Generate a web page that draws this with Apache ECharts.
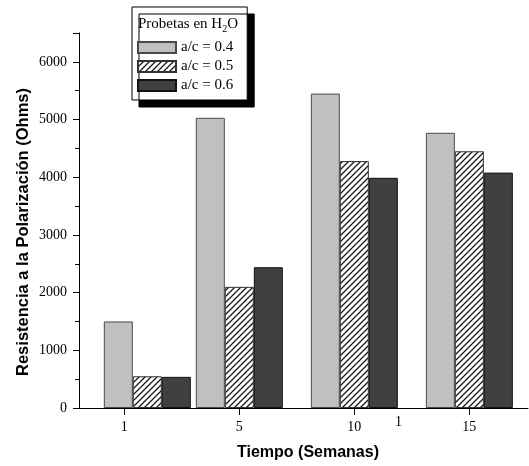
<!DOCTYPE html>
<html>
<head>
<meta charset="utf-8">
<script src="https://cdn.jsdelivr.net/npm/echarts@6/dist/echarts.min.js"></script>
<style>html,body{margin:0;padding:0;background:#fff}#c{width:529px;height:466px}</style>
</head>
<body>
<div id="c"></div>
<script>
// ---- data ----
const weeks = ['1', '5', '10', '15'];
const groupX = [1.2, 2, 3, 4];          // group positions along the x axis (tick index units)
const seriesNames = ['a/c = 0.4', 'a/c = 0.5', 'a/c = 0.6'];
const ac04 = [1500, 5030, 5450, 4770];
const ac05 = [550, 2100, 4280, 4450];
const ac06 = [540, 2440, 3990, 4080];
const xTickValues = [1, 2, 3, 4];

// hatch pattern
function hatch() {
  const s = 6, c = document.createElement('canvas');
  c.width = s; c.height = s;
  const g = c.getContext('2d');
  g.fillStyle = '#fff'; g.fillRect(0, 0, s, s);
  g.strokeStyle = '#1a1a1a'; g.lineWidth = 1.3;
  g.beginPath();
  g.moveTo(-1, s + 1); g.lineTo(s + 1, -1);
  g.moveTo(-1, 1); g.lineTo(1, -1);
  g.moveTo(s - 1, s + 1); g.lineTo(s + 1, s - 1);
  g.stroke();
  return { image: c, repeat: 'repeat' };
}

const pairs = arr => arr.map((v, i) => [groupX[i], v]);
const serif = 'Liberation Serif';
const sans = 'Liberation Sans';

const chart = echarts.init(document.getElementById('c'), null, { renderer: 'canvas' });
chart.setOption({
  animation: false,
  backgroundColor: '#fff',
  grid: { left: 79, right: 1, top: 33, bottom: 58, containLabel: false },
  xAxis: {
    type: 'value', min: 0.606, max: 4.51,
    axisLine: { onZero: false, lineStyle: { color: '#000', width: 1 } },
    axisTick: { show: true, length: 7, customValues: xTickValues, lineStyle: { color: '#000' } },
    axisLabel: { customValues: xTickValues, margin: 12, fontFamily: serif, fontSize: 14, color: '#000',
      formatter: v => weeks[Math.round(v) - 1] },
    splitLine: { show: false }
  },
  yAxis: {
    type: 'value', min: 0, max: 6500, interval: 1000,
    axisLine: { show: true, onZero: false, lineStyle: { color: '#000', width: 1 } },
    axisTick: { show: true, length: 6, lineStyle: { color: '#000' } },
    minorTick: { show: true, splitNumber: 2, length: 4, lineStyle: { color: '#000' } },
    axisLabel: { showMaxLabel: false, margin: 12, fontFamily: serif, fontSize: 14, color: '#000',
      formatter: v => String(v) },
    splitLine: { show: false }
  },
  legend: {
    orient: 'vertical', left: 132, top: 7,
    padding: [33, 14, 7, 5],
    itemWidth: 38, itemHeight: 11, itemGap: 4,
    icon: 'rect', selectedMode: false,
    backgroundColor: '#fff', borderColor: '#000', borderWidth: 1,
    shadowColor: '#000', shadowBlur: 0, shadowOffsetX: 7, shadowOffsetY: 7,
    textStyle: { fontFamily: serif, fontSize: 15, color: '#000' },
    data: seriesNames
  },
  graphic: [
    { type: 'text', left: 138, top: 17, z: 100,
      style: { text: '{m|Probetas en H}{sub|2}{m|O}', fill: '#000',
        rich: {
          m: { fontFamily: serif, fontSize: 15, lineHeight: 20, verticalAlign: 'middle' },
          sub: { fontFamily: serif, fontSize: 10, lineHeight: 20, verticalAlign: 'bottom' }
        } } },
    { type: 'text', left: 395, top: 415, z: 100,
      style: { text: '1', fontFamily: serif, fontSize: 14, fill: '#000' } },
    { type: 'text', x: 23, y: 232, rotation: Math.PI / 2, z: 100,
      style: { text: 'Resistencia a la Polarización (Ohms)', fontFamily: sans, fontWeight: 'bold',
        fontSize: 16.5, fill: '#000', align: 'center', verticalAlign: 'middle' } },
    { type: 'text', x: 308, y: 453, z: 100,
      style: { text: 'Tiempo (Semanas)', fontFamily: sans, fontWeight: 'bold',
        fontSize: 16, fill: '#000', align: 'center', verticalAlign: 'middle' } }
  ],
  series: [
    { name: seriesNames[0], type: 'bar', barWidth: 29, barGap: '0%', data: pairs(ac04),
      itemStyle: { color: '#c0c0c0', borderColor: '#4a4a4a', borderWidth: 1 }, emphasis: { disabled: true } },
    { name: seriesNames[1], type: 'bar', barWidth: 29, barGap: '0%', data: pairs(ac05),
      itemStyle: { color: hatch(), borderColor: '#333', borderWidth: 1 }, emphasis: { disabled: true } },
    { name: seriesNames[2], type: 'bar', barWidth: 29, barGap: '0%', data: pairs(ac06),
      itemStyle: { color: '#404040', borderColor: '#111', borderWidth: 1 }, emphasis: { disabled: true } }
  ]
});
</script>
</body>
</html>
